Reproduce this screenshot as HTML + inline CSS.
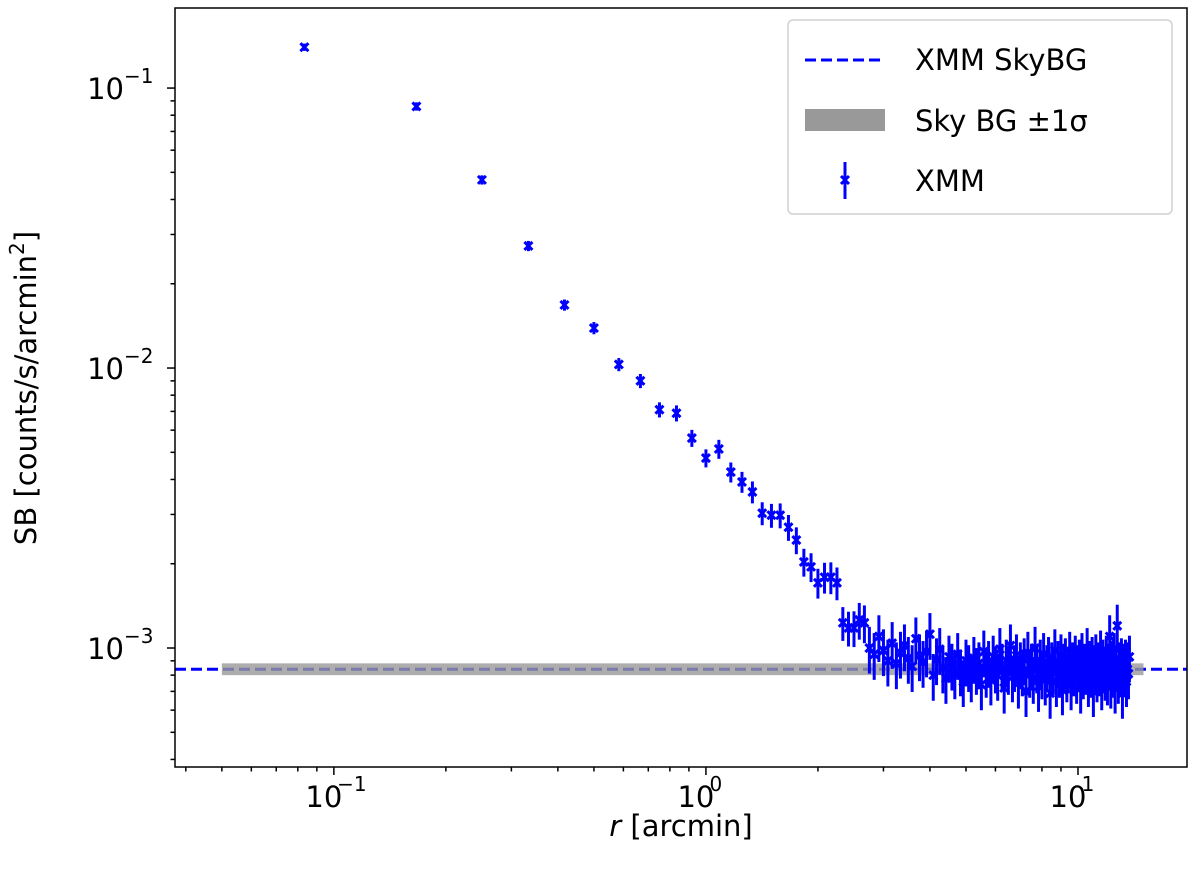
<!DOCTYPE html>
<html><head><meta charset="utf-8"><style>
html,body{margin:0;padding:0;background:#fff;}
svg{display:block;font-family:"DejaVu Sans","Liberation Sans",sans-serif;}
</style></head><body>
<svg id="c" width="1200" height="876"></svg>
<script>
const vHead=[0.140,0.086,0.047,0.0273,0.0168,0.0139,0.0103,0.0090,0.0071,0.0069,0.00562,0.00477,0.00514,0.00425,0.00392,0.00361,0.00303,0.00298,0.00298,0.00270,0.00243,0.00203,0.00195,0.00171,0.00179,0.00179,0.00171,0.00123,0.00118,0.00118,0.00126,0.00123];
const vTail=[0.00100,0.00095,0.00110,0.00098,0.00090,0.00104,0.00088,0.00096,0.00102,0.00092,0.00086,0.00108,0.00094,0.00089,0.00097,0.00112,0.00080,0.00091,0.00099,0.00085,0.00078,0.00093,0.00087,0.00081,0.00095,0.00083,0.00076,0.00090,0.00086,0.00079,0.00092,0.00084,0.00088,0.00074,0.00097,0.00082,0.00089,0.00077,0.00093,0.00085,0.00080,0.00099,0.00087,0.00072,0.00090,0.00084,0.00102,0.00079,0.00086,0.00094,0.00075,0.00088,0.00083,0.00091,0.00070,0.00096,0.00082,0.00087,0.00078,0.00100,0.00085,0.00073,0.00090,0.00081,0.00095,0.00077,0.00086,0.00092,0.00069,0.00088,0.00084,0.00098,0.00076,0.00089,0.00082,0.00094,0.00071,0.00087,0.00091,0.00079,0.00085,0.00096,0.00074,0.00088,0.00083,0.00093,0.00078,0.00086,0.00090,0.00072,0.00095,0.00081,0.00087,0.00084,0.00099,0.00076,0.00089,0.00082,0.00092,0.00070,0.00086,0.00094,0.00079,0.00088,0.00083,0.00097,0.00074,0.00090,0.00085,0.00080,0.00093,0.00077,0.00087,0.00110,0.00075,0.00089,0.00082,0.00095,0.00072,0.00086,0.00120,0.00078,0.00088,0.00084,0.00091,0.00069,0.00087,0.00083,0.00090,0.00076,0.00088,0.00081,0.00093];
const skyBG=0.00084, skySig=0.00002;
const xTickLabels=["10","10","10"], xTickExp=["−1","0","1"], xTickVals=[0.1,1,10];
const yTickVals=[0.1,0.01,0.001], yTickExp=["−1","−2","−3"];
const svg=document.getElementById('c');const NS='http://www.w3.org/2000/svg';
const L=175,R=1187,T=8,B=767;
const xl0=-1.427,xl1=1.293,yl0=-3.425,yl1=-0.714;
const X=v=>L+(Math.log10(v)-xl0)/(xl1-xl0)*(R-L);
const Y=v=>B-(Math.log10(v)-yl0)/(yl1-yl0)*(B-T);
function el(t,a,p){const e=document.createElementNS(NS,t);for(const k in a)e.setAttribute(k,a[k]);(p||svg).appendChild(e);return e;}
const vals=vHead.concat(vTail);
const clip=el('clipPath',{id:'pc'});el('rect',{x:L,y:T,width:R-L,height:B-T},clip);
const plot=el('g',{'clip-path':'url(#pc)'});

const dl=el('line',{x1:L,x2:R,y1:Y(skyBG),y2:Y(skyBG),stroke:'#0000ff','stroke-width':3,'stroke-dasharray':'11,5'},plot);

const band=el('rect',{x:X(0.05),y:Y(skyBG+skySig)-3,width:X(15)-X(0.05),height:Y(skyBG-skySig)-Y(skyBG+skySig)+6,fill:'#999',opacity:0.8},plot);

const pts=el('g',{stroke:'#0000ff','stroke-width':3,fill:'none'},plot);

vals.forEach((v,i)=>{const r=(i+1)/12;const frac=i<10?0.03+0.004*i:(i<32?0.07+0.004*(i-10):0.19);
 const e=v*frac;const x=X(r),y=Y(v);
 const g=el('g',{},pts);
 
 el('line',{x1:x,x2:x,y1:Y(v+e),y2:Y(Math.max(v-e,1e-6))},g);
 el('path',{d:`M${x-4},${y-4}L${x+4},${y+4}M${x-4},${y+4}L${x+4},${y-4}`},g);
});
el('rect',{x:L,y:T,width:R-L,height:B-T,fill:'none',stroke:'#000','stroke-width':1.5});
const ax=el('g',{});
for(let d=-2;d<=1;d++)for(let m=1;m<10;m++){const v=m*Math.pow(10,d);const x=X(v);if(x<L||x>R)continue;
 el('line',{x1:x,x2:x,y1:B,y2:B+(m==1?8:4.5),stroke:'#000','stroke-width':1.5},ax);}
xTickVals.forEach((v,i)=>{const t=el('text',{x:X(v)-10,y:B+40,'font-size':29,'text-anchor':'middle'},ax);t.textContent=xTickLabels[i];
 const s=el('text',{x:X(v)+(xTickExp[i].length>1?18:10),y:B+24,'font-size':20,'text-anchor':'middle'},ax);s.textContent=xTickExp[i];});
const xt=el('text',{x:681,y:836,'font-size':29,'text-anchor':'middle'});xt.innerHTML='<tspan font-style="italic">r</tspan> [arcmin]';

const ay=el('g',{});
for(let d=-4;d<=-1;d++)for(let m=1;m<10;m++){const v=m*Math.pow(10,d);const y=Y(v);if(y<T||y>B)continue;
 el('line',{x1:L,x2:L-(m==1?8:4.5),y1:y,y2:y,stroke:'#000','stroke-width':1.5},ay);}
yTickVals.forEach((v,i)=>{const t=el('text',{x:124,y:Y(v)+11,'font-size':29,'text-anchor':'end'},ay);t.textContent='10';
 const s=el('text',{x:124,y:Y(v)-5,'font-size':20},ay);s.textContent=yTickExp[i];});
const yt=el('text',{transform:'translate(36,388) rotate(-90)','font-size':29,'text-anchor':'middle'});
yt.innerHTML='SB [counts/s/arcmin<tspan font-size="20" dy="-12">2</tspan><tspan dy="12">]</tspan>';

const lg=el('g',{});
el('rect',{x:788,y:20,width:384,height:194,rx:5,fill:'#fff',stroke:'#ccc','stroke-width':1.5,opacity:0.9},lg);
el('line',{x1:805,x2:885,y1:60,y2:60,stroke:'#0000ff','stroke-width':3,'stroke-dasharray':'11,5'},lg);
el('rect',{x:805,y:109,width:80,height:22,fill:'#999'},lg);
el('line',{x1:845,x2:845,y1:162,y2:199,stroke:'#0000ff','stroke-width':3},lg);
el('path',{d:'M841,176L849,184M841,184L849,176',stroke:'#0000ff','stroke-width':3},lg);
[['XMM SkyBG',70],['Sky BG ±1σ',131],['XMM',191]].forEach(a=>{const t=el('text',{x:915,y:a[1],'font-size':29},lg);t.textContent=a[0];
 });
</script>
</body></html>
